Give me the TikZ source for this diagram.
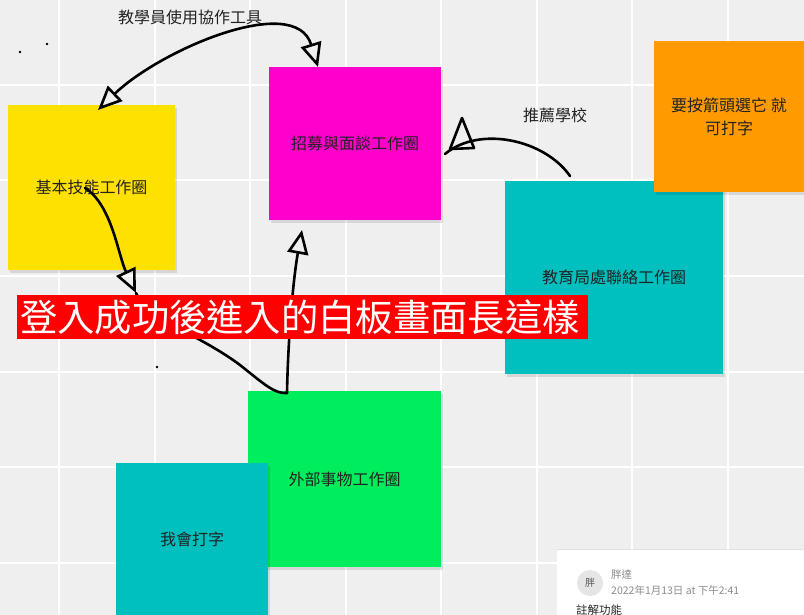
\documentclass[tikz,border=0pt]{standalone}
\usepackage{fontspec}
\setmainfont{Noto Sans CJK TC}
\usetikzlibrary{arrows.meta,shadows}
\definecolor{bggray}{HTML}{EFEFEF}
\definecolor{nyellow}{HTML}{FFE100}
\definecolor{nmagenta}{HTML}{FF00CC}
\definecolor{norange}{HTML}{FF9A00}
\definecolor{nteal}{HTML}{00BFBF}
\definecolor{ngreen}{HTML}{00EE5E}
\definecolor{ntext}{HTML}{222222}
\definecolor{bannerred}{HTML}{FF0000}
\begin{document}
\begin{tikzpicture}[x=1pt,y=-1pt,
  note/.style={anchor=north west, inner sep=0pt, outer sep=0pt,
    general shadow={fill=black, fill opacity=0.10, shadow xshift=2pt, shadow yshift=-3pt},
    text=ntext, font=\fontsize{16}{19}\selectfont, align=center},
  sketch/.style={line width=2.6pt, line cap=round, line join=round, black},
  bigtip/.style={Triangle[open, length=24pt, width=21pt, line width=2.6pt]},
  tip/.style={-{Triangle[open, length=24pt, width=21pt, line width=2.6pt]}},
  lbl/.style={text=ntext, font=\fontsize{16}{19}\selectfont, inner sep=0pt},
  gridline/.style={white, line width=2pt}]
\useasboundingbox (0,0) rectangle (804,615);
\fill[bggray] (0,0) rectangle (804,615);
% grid
\foreach \gx in {59,154.5,250,345.5,441,536.5,632,727.5}
  \draw[gridline] (\gx,0) -- (\gx,615);
\foreach \gy in {85,180.5,276,371.5,467,562.5}
  \draw[gridline] (0,\gy) -- (804,\gy);
% dots
\fill (20,52) circle (1.4pt);
\fill (47,44) circle (1.4pt);
\fill (157,367) circle (1.4pt);

% notes
\node[note, fill=nyellow, minimum width=167pt, minimum height=165pt] (basic) at (8,105) {基本技能工作圈};
\node[note, fill=nmagenta, minimum width=172pt, minimum height=153pt] (recruit) at (269,67) {招募與面談工作圈};
\node[note, fill=nteal, minimum width=218pt, minimum height=193pt] (edu) at (505,181) {教育局處聯絡工作圈};
\node[note, fill=norange, minimum width=150pt, minimum height=151pt] (hint) at (654,41) {要按箭頭選它 就\\[4pt]可打字};
\node[note, fill=ngreen, minimum width=193pt, minimum height=176pt] (ext) at (248,391) {外部事物工作圈};
\node[note, fill=nteal, minimum width=152pt, minimum height=152pt] (type) at (116,463) {我會打字};

% labels
\node[lbl] (lblA) at (190,17) {教學員使用協作工具};
\node[lbl] (lblB) at (555,115) {推薦學校};

% connector coordinates
\coordinate (a1) at (98,110);
\coordinate (a2) at (318,67);
\coordinate (b0) at (85,188);
\coordinate (b1) at (136,293);
\coordinate (b2) at (287,393);
\coordinate (b3) at (302,230);
\coordinate (c0) at (570,176);
\coordinate (c1) at (445,154);

% arrow 1 (double headed)
\draw[sketch, {Triangle[open, length=24pt, width=21pt, line width=2.6pt]}-{Triangle[open, length=24pt, width=21pt, line width=2.6pt]}]
  (a1) .. controls (160,50) and (295,-8) .. (a2);
% arrow 3
\draw[sketch, tip] (b0) .. controls (112,205) and (118,255) .. (b1);
\draw[sketch] (b1) .. controls (150,320) and (200,335) .. (240,365)
  .. controls (265,385) and (275,394) .. (b2);
\draw[sketch, tip] (b2) .. controls (288,340) and (293,280) .. (b3);
% arrow 2
\draw[sketch] (c0) .. controls (545,140) and (480,125) .. (c1);
\draw[sketch] (462,118) -- (450,149) -- (474,148) -- cycle;

% banner
\node[fill=bannerred, anchor=north west, inner sep=0pt,
  minimum width=571pt, minimum height=44pt] (banner) at (17,295) {};
\node[text=white, anchor=west, inner sep=0pt,
  font=\fontsize{37.3}{40}\selectfont] (bannertext) at (20,317.5) {登入成功後進入的白板畫面長這樣};

% comment card
\node[anchor=north west, fill=white, inner sep=0pt, minimum width=247pt, minimum height=65pt,
  general shadow={fill=black, fill opacity=0.06, shadow xshift=0pt, shadow yshift=1.5pt}] (card) at (557,550) {};
\node[circle, fill=black!10, minimum size=26pt, inner sep=0pt, text=black!65,
  font=\fontsize{10}{12}\selectfont] (avatar) at (590,583) {胖};
\node[anchor=west, inner sep=0pt, text=black!45, font=\fontsize{10.5}{12}\selectfont] (cname) at (611,575) {胖達};
\node[anchor=west, inner sep=0pt, text=black!45, font=\fontsize{10.5}{12}\selectfont] (cdate) at (611,590) {2022年1月13日 at 下午2:41};
\node[anchor=west, inner sep=0pt, text=black!85, font=\fontsize{11.5}{13}\selectfont] (ctext) at (576,610) {註解功能};
\end{tikzpicture}
\end{document}
